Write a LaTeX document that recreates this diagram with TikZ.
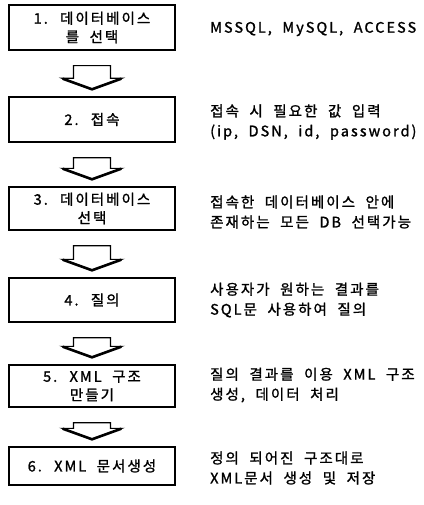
\documentclass[tikz,border=0pt]{standalone}
\usepackage{fontspec}
\setmainfont{Noto Sans CJK KR}[LetterSpace=14, WordSpace=2, FakeBold=1.3]
\usetikzlibrary{calc}

\tikzset{
  stepbox/.style={draw=black, line width=1.4pt, fill=white, rectangle,
    minimum width=166pt, inner sep=0pt, align=center,
    font=\fontsize{14.5}{18.5}\selectfont},
  note/.style={anchor=west, inner sep=0pt, align=left,
    font=\fontsize{14.5}{20}\selectfont},
  arrowbody/.style={draw=black, line width=1.1pt, fill=white, line join=miter},
  arrowedge/.style={draw=black, line width=2.6pt, line cap=round, line join=round}
}

% hollow block arrow between two stacked boxes
\newcommand\flowarrow[2]{%
  \path let \p1=(#1.south), \p2=(#2.north) in
    coordinate (ftop) at (\x1,\y1-15pt)
    coordinate (ftip) at (\x2,\y2+7pt);
  \draw[arrowbody] let \p1=(ftop), \p2=(ftip) in
    (\x1-18.5pt,\y1) -- (\x1+18.5pt,\y1) -- (\x1+18.5pt,\y2+11pt)
    -- (\x1+30pt,\y2+11pt) -- (\p2) -- (\x1-30pt,\y2+11pt)
    -- (\x1-18.5pt,\y2+11pt) -- cycle;
  \draw[arrowedge] let \p1=(ftop), \p2=(ftip) in
    (\x1-29pt,\y2+10.5pt) -- (\p2) -- (\x1+29pt,\y2+10.5pt);
}

\begin{document}
\begin{tikzpicture}[x=1pt, y=-1pt]
\useasboundingbox (0,0) rectangle (423,505);
\fill[white] (0,0) rectangle (423,505);

% process steps
\node[stepbox, minimum height=45pt] (b1) at (92,27.5) {1. 데이터베이스\\를 선택};
\node[stepbox, minimum height=45pt] (b2) at (92,119.5) {2. 접속};
\node[stepbox, minimum height=43pt] (b3) at (92,208.5) {3. 데이터베이스\\선택};
\node[stepbox, minimum height=44pt] (b4) at (92,300) {4. 질의};
\node[stepbox, minimum height=42pt] (b5) at (92,386) {5. XML 구조\\만들기};
\node[stepbox, minimum height=38pt] (b6) at (92,466) {6. XML 문서생성};

% flow between steps
\flowarrow{b1}{b2}
\flowarrow{b2}{b3}
\flowarrow{b3}{b4}
\flowarrow{b4}{b5}
\flowarrow{b5}{b6}

% descriptions
\node[note] (n1) at (210,29) {MSSQL, MySQL, ACCESS};
\node[note] (n2) at (210,122) {접속 시 필요한 값 입력\\(ip, DSN, id, password)};
\node[note] (n3) at (210,212) {접속한 데이터베이스 안에\\존재하는 모든 DB 선택가능};
\node[note] (n4) at (210,300) {사용자가 원하는 결과를\\SQL문 사용하여 질의};
\node[note] (n5) at (210,385) {질의 결과를 이용 XML 구조\\생성, 데이터 처리};
\node[note] (n6) at (210,468) {정의 되어진 구조대로\\XML문서 생성 및 저장};
\end{tikzpicture}
\end{document}
